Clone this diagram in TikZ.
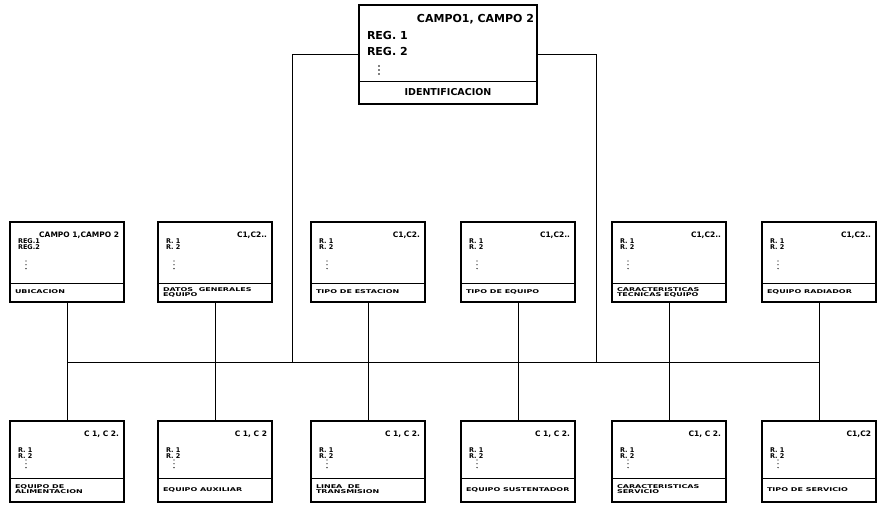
\documentclass[tikz,border=0pt]{standalone}
\usepackage{fontspec}
\setmainfont{DejaVu Sans}
\usetikzlibrary{calc}
\newcommand\lbltext[1]{\scalebox{1}[0.65]{\bfseries\fontsize{8}{8}\selectfont\def\arraystretch{0.85}\begin{tabular}{@{}l@{}}#1\end{tabular}}}
\tikzset{
  every node/.style={inner sep=0pt, outer sep=0pt, text=black},
  recbox/.style={draw, line width=1.1pt, minimum width=114pt, fill=white},
  sepline/.style={line width=0.8pt},
  conn/.style={line width=0.7pt},
  hdr/.style={font=\bfseries\fontsize{7.5}{8}\selectfont, anchor=base east},
  rec/.style={font=\bfseries\fontsize{6.5}{5.8}\selectfont, anchor=north west, align=left},
  lbl/.style={anchor=west},
}
% #1 name, #2 cx, #3 top, #4 height, #5 label band height, #6 header, #7 records, #8 label, #9 records offset
\newcommand\recbox[9]{%
  \node[recbox, minimum height=#4pt, anchor=north] (#1) at (#2,#3) {};
  \draw[sepline] ($(#1.south west)+(0,-#5)$) -- ($(#1.south east)+(0,-#5)$);
  \node[hdr] (#1h) at ($(#1.north east)+(-5,15)$) {#6};
  \node[rec] (#1r) at ($(#1.north west)+(8,#9)$) {#7};
  \foreach \k in {0,1,2} \fill ($(#1.north west)+(16,39+3.8*\k)$) circle (0.65pt);
  \node[lbl] (#1l) at ($(#1.south west)+(5,-#5/2)$) {\lbltext{#8}};
}
\begin{document}
\begin{tikzpicture}[x=1pt,y=-1pt]
\fill[white] (0,0) rectangle (880,506);
\useasboundingbox (0,0) rectangle (880,506);

% top box
\node[recbox, minimum width=178pt, minimum height=99pt, anchor=north] (top) at (448,5) {};
\draw[sepline] ($(top.south west)+(0,-23)$) -- ($(top.south east)+(0,-23)$);
\node[font=\bfseries\fontsize{11}{12}\selectfont, anchor=base east] (toph) at ($(top.north east)+(-3,18)$) {CAMPO1, CAMPO 2};
\node[anchor=north west, align=left, font=\bfseries\fontsize{11}{16}\selectfont] (topr) at ($(top.north west)+(8,26)$) {REG. 1\\REG. 2};
\foreach \k in {0,1,2} \fill ($(top.north west)+(20,61+4*\k)$) circle (0.8pt);
\node[font=\bfseries\fontsize{9.5}{10}\selectfont] (topl) at ($(top.south)+(0,-11.5)$) {IDENTIFICACION};

% middle row
\recbox{m1}{67}{222}{80}{19}{CAMPO 1,CAMPO 2}{REG.1\\REG.2}{UBICACION}{17}
\recbox{m2}{215}{222}{80}{19}{C1,C2..}{R. 1\\R. 2}{DATOS\ \ GENERALES\\EQUIPO}{17}
\recbox{m3}{368}{222}{80}{19}{C1,C2.}{R. 1\\R. 2}{TIPO DE ESTACION}{17}
\recbox{m4}{518}{222}{80}{19}{C1,C2..}{R. 1\\R. 2}{TIPO DE EQUIPO}{17}
\recbox{m5}{669}{222}{80}{19}{C1,C2..}{R. 1\\R. 2}{CARACTERISTICAS\\TECNICAS EQUIPO}{17}
\recbox{m6}{819}{222}{80}{19}{C1,C2..}{R. 1\\R. 2}{EQUIPO RADIADOR}{17}

% bottom row
\recbox{b1}{67}{421}{81}{24}{C 1, C 2.}{R. 1\\R. 2}{EQUIPO DE\\ALIMENTACION}{27}
\recbox{b2}{215}{421}{81}{24}{C 1, C 2}{R. 1\\R. 2}{EQUIPO AUXILIAR}{27}
\recbox{b3}{368}{421}{81}{24}{C 1, C 2.}{R. 1\\R. 2}{LINEA\ \ DE\\TRANSMISION}{27}
\recbox{b4}{518}{421}{81}{24}{C 1, C 2.}{R. 1\\R. 2}{EQUIPO SUSTENTADOR}{27}
\recbox{b5}{669}{421}{81}{24}{C1, C 2.}{R. 1\\R. 2}{CARACTERISTICAS\\SERVICIO}{27}
\recbox{b6}{819}{421}{81}{24}{C1,C2}{R. 1\\R. 2}{TIPO DE SERVICIO}{27}

% connectors
\coordinate (busy) at (0,362);
\coordinate (jl) at (292,362);
\coordinate (jr) at (596,362);
\foreach \i in {1,...,6} \draw[conn] (m\i.south) -- (b\i.north);
\draw[conn] (m1.south |- busy) -- (m6.south |- busy);
\draw[conn] (top.west) -| (jl);
\draw[conn] (top.east) -| (jr);
\end{tikzpicture}
\end{document}
